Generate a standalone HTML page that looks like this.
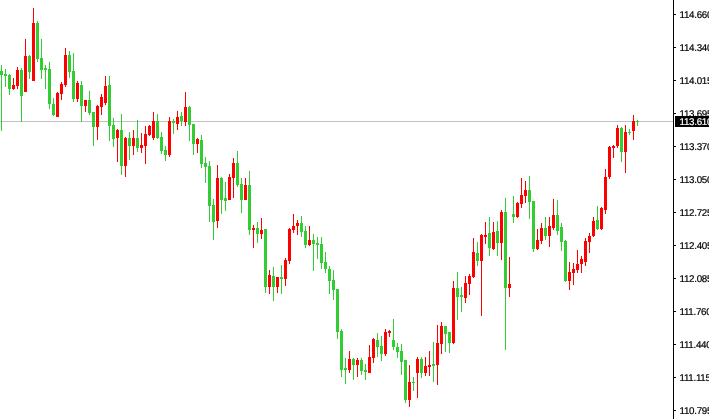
<!DOCTYPE html>
<html><head><meta charset="utf-8"><title>chart</title>
<style>
html,body{margin:0;padding:0;background:#fff;}
#c{position:relative;width:709px;height:419px;overflow:hidden;background:#fff;font-family:"Liberation Sans",sans-serif;}
#c svg{position:absolute;left:0;top:0;}
.l{position:absolute;left:679.5px;height:14px;line-height:14px;font-size:9.8px;letter-spacing:-0.3px;text-rendering:geometricPrecision;-webkit-text-stroke:0.2px;color:#000;white-space:nowrap;}
.p{position:absolute;left:675px;top:116px;width:34px;height:11px;background:#000;}
.p span{position:absolute;left:4.5px;top:0px;height:14px;line-height:14px;font-size:9.8px;letter-spacing:-0.3px;text-rendering:geometricPrecision;-webkit-text-stroke:0.2px;color:#fff;white-space:nowrap;}
</style></head><body>
<div id="c">
<svg width="709" height="419" viewBox="0 0 709 419" shape-rendering="crispEdges">
<rect x="0" y="121" width="673" height="1" fill="#c0c0c0"/>
<rect x="1" y="65" width="1" height="66" fill="#32cd32"/><rect x="0" y="71" width="3" height="4" fill="#32cd32"/><rect x="5" y="69" width="1" height="18" fill="#32cd32"/><rect x="4" y="74" width="3" height="2" fill="#32cd32"/><rect x="9" y="74" width="1" height="21" fill="#32cd32"/><rect x="8" y="75" width="3" height="14" fill="#32cd32"/><rect x="13" y="78" width="1" height="12" fill="#ff0000"/><rect x="12" y="85" width="3" height="4" fill="#ff0000"/><rect x="17" y="67" width="1" height="22" fill="#ff0000"/><rect x="16" y="70" width="3" height="16" fill="#ff0000"/><rect x="21" y="68" width="1" height="54" fill="#32cd32"/><rect x="20" y="70" width="3" height="26" fill="#32cd32"/><rect x="25" y="39" width="1" height="53" fill="#ff0000"/><rect x="24" y="56" width="3" height="36" fill="#ff0000"/><rect x="29" y="55" width="1" height="24" fill="#32cd32"/><rect x="28" y="56" width="3" height="16" fill="#32cd32"/><rect x="33" y="8" width="1" height="73" fill="#ff0000"/><rect x="32" y="23" width="3" height="58" fill="#ff0000"/><rect x="37" y="21" width="1" height="41" fill="#32cd32"/><rect x="36" y="23" width="3" height="36" fill="#32cd32"/><rect x="41" y="39" width="1" height="40" fill="#32cd32"/><rect x="40" y="58" width="3" height="12" fill="#32cd32"/><rect x="45" y="65" width="1" height="24" fill="#32cd32"/><rect x="44" y="68" width="3" height="2" fill="#32cd32"/><rect x="49" y="62" width="1" height="47" fill="#32cd32"/><rect x="48" y="69" width="3" height="35" fill="#32cd32"/><rect x="53" y="98" width="1" height="18" fill="#32cd32"/><rect x="52" y="104" width="3" height="11" fill="#32cd32"/><rect x="57" y="92" width="1" height="25" fill="#ff0000"/><rect x="56" y="93" width="3" height="24" fill="#ff0000"/><rect x="61" y="82" width="1" height="18" fill="#ff0000"/><rect x="60" y="84" width="3" height="10" fill="#ff0000"/><rect x="65" y="48" width="1" height="39" fill="#ff0000"/><rect x="64" y="55" width="3" height="30" fill="#ff0000"/><rect x="69" y="51" width="1" height="27" fill="#32cd32"/><rect x="68" y="55" width="3" height="17" fill="#32cd32"/><rect x="73" y="53" width="1" height="49" fill="#32cd32"/><rect x="72" y="71" width="3" height="28" fill="#32cd32"/><rect x="77" y="81" width="1" height="21" fill="#ff0000"/><rect x="76" y="83" width="3" height="16" fill="#ff0000"/><rect x="81" y="81" width="1" height="41" fill="#32cd32"/><rect x="80" y="85" width="3" height="21" fill="#32cd32"/><rect x="85" y="100" width="1" height="12" fill="#ff0000"/><rect x="84" y="100" width="3" height="6" fill="#ff0000"/><rect x="89" y="91" width="1" height="24" fill="#32cd32"/><rect x="88" y="100" width="3" height="13" fill="#32cd32"/><rect x="93" y="112" width="1" height="34" fill="#32cd32"/><rect x="92" y="112" width="3" height="15" fill="#32cd32"/><rect x="97" y="105" width="1" height="35" fill="#ff0000"/><rect x="96" y="106" width="3" height="21" fill="#ff0000"/><rect x="101" y="94" width="1" height="21" fill="#ff0000"/><rect x="100" y="97" width="3" height="10" fill="#ff0000"/><rect x="105" y="76" width="1" height="29" fill="#ff0000"/><rect x="104" y="86" width="3" height="17" fill="#ff0000"/><rect x="109" y="76" width="1" height="65" fill="#32cd32"/><rect x="108" y="85" width="3" height="41" fill="#32cd32"/><rect x="113" y="118" width="1" height="29" fill="#32cd32"/><rect x="112" y="125" width="3" height="14" fill="#32cd32"/><rect x="117" y="129" width="1" height="33" fill="#ff0000"/><rect x="116" y="130" width="3" height="8" fill="#ff0000"/><rect x="121" y="114" width="1" height="61" fill="#32cd32"/><rect x="120" y="130" width="3" height="36" fill="#32cd32"/><rect x="125" y="137" width="1" height="40" fill="#ff0000"/><rect x="124" y="138" width="3" height="28" fill="#ff0000"/><rect x="129" y="132" width="1" height="28" fill="#32cd32"/><rect x="128" y="138" width="3" height="8" fill="#32cd32"/><rect x="133" y="130" width="1" height="25" fill="#ff0000"/><rect x="132" y="138" width="3" height="8" fill="#ff0000"/><rect x="137" y="120" width="1" height="32" fill="#32cd32"/><rect x="136" y="138" width="3" height="10" fill="#32cd32"/><rect x="141" y="133" width="1" height="20" fill="#ff0000"/><rect x="140" y="145" width="3" height="3" fill="#ff0000"/><rect x="145" y="126" width="1" height="38" fill="#ff0000"/><rect x="144" y="134" width="3" height="12" fill="#ff0000"/><rect x="149" y="125" width="1" height="11" fill="#ff0000"/><rect x="148" y="126" width="3" height="9" fill="#ff0000"/><rect x="153" y="112" width="1" height="28" fill="#ff0000"/><rect x="152" y="121" width="3" height="17" fill="#ff0000"/><rect x="157" y="114" width="1" height="25" fill="#32cd32"/><rect x="156" y="121" width="3" height="17" fill="#32cd32"/><rect x="161" y="132" width="1" height="22" fill="#32cd32"/><rect x="160" y="137" width="3" height="14" fill="#32cd32"/><rect x="165" y="146" width="1" height="15" fill="#32cd32"/><rect x="164" y="150" width="3" height="5" fill="#32cd32"/><rect x="169" y="117" width="1" height="40" fill="#ff0000"/><rect x="168" y="121" width="3" height="34" fill="#ff0000"/><rect x="173" y="119" width="1" height="15" fill="#32cd32"/><rect x="172" y="121" width="3" height="2" fill="#32cd32"/><rect x="177" y="111" width="1" height="19" fill="#ff0000"/><rect x="176" y="117" width="3" height="7" fill="#ff0000"/><rect x="181" y="112" width="1" height="14" fill="#32cd32"/><rect x="180" y="116" width="3" height="5" fill="#32cd32"/><rect x="185" y="92" width="1" height="34" fill="#ff0000"/><rect x="184" y="107" width="3" height="15" fill="#ff0000"/><rect x="189" y="106" width="1" height="35" fill="#32cd32"/><rect x="188" y="107" width="3" height="18" fill="#32cd32"/><rect x="193" y="124" width="1" height="31" fill="#32cd32"/><rect x="192" y="124" width="3" height="20" fill="#32cd32"/><rect x="197" y="138" width="1" height="15" fill="#ff0000"/><rect x="196" y="139" width="3" height="5" fill="#ff0000"/><rect x="201" y="135" width="1" height="33" fill="#32cd32"/><rect x="200" y="140" width="3" height="24" fill="#32cd32"/><rect x="205" y="157" width="1" height="26" fill="#32cd32"/><rect x="204" y="163" width="3" height="4" fill="#32cd32"/><rect x="209" y="161" width="1" height="61" fill="#32cd32"/><rect x="208" y="166" width="3" height="40" fill="#32cd32"/><rect x="213" y="199" width="1" height="41" fill="#32cd32"/><rect x="212" y="205" width="3" height="17" fill="#32cd32"/><rect x="217" y="165" width="1" height="63" fill="#ff0000"/><rect x="216" y="178" width="3" height="43" fill="#ff0000"/><rect x="221" y="177" width="1" height="37" fill="#32cd32"/><rect x="220" y="178" width="3" height="22" fill="#32cd32"/><rect x="225" y="182" width="1" height="29" fill="#32cd32"/><rect x="224" y="198" width="3" height="3" fill="#32cd32"/><rect x="229" y="174" width="1" height="26" fill="#ff0000"/><rect x="228" y="177" width="3" height="23" fill="#ff0000"/><rect x="233" y="158" width="1" height="40" fill="#ff0000"/><rect x="232" y="163" width="3" height="15" fill="#ff0000"/><rect x="237" y="151" width="1" height="36" fill="#32cd32"/><rect x="236" y="163" width="3" height="22" fill="#32cd32"/><rect x="241" y="178" width="1" height="35" fill="#32cd32"/><rect x="240" y="184" width="3" height="16" fill="#32cd32"/><rect x="245" y="178" width="1" height="22" fill="#ff0000"/><rect x="244" y="185" width="3" height="15" fill="#ff0000"/><rect x="249" y="171" width="1" height="64" fill="#32cd32"/><rect x="248" y="185" width="3" height="45" fill="#32cd32"/><rect x="253" y="225" width="1" height="23" fill="#ff0000"/><rect x="252" y="228" width="3" height="2" fill="#ff0000"/><rect x="257" y="222" width="1" height="21" fill="#32cd32"/><rect x="256" y="228" width="3" height="6" fill="#32cd32"/><rect x="261" y="218" width="1" height="21" fill="#ff0000"/><rect x="260" y="230" width="3" height="4" fill="#ff0000"/><rect x="265" y="229" width="1" height="64" fill="#32cd32"/><rect x="264" y="229" width="3" height="58" fill="#32cd32"/><rect x="269" y="270" width="1" height="24" fill="#ff0000"/><rect x="268" y="275" width="3" height="12" fill="#ff0000"/><rect x="273" y="267" width="1" height="34" fill="#32cd32"/><rect x="272" y="276" width="3" height="11" fill="#32cd32"/><rect x="277" y="277" width="1" height="16" fill="#ff0000"/><rect x="276" y="277" width="3" height="10" fill="#ff0000"/><rect x="281" y="265" width="1" height="29" fill="#32cd32"/><rect x="280" y="277" width="3" height="2" fill="#32cd32"/><rect x="285" y="258" width="1" height="28" fill="#ff0000"/><rect x="284" y="260" width="3" height="19" fill="#ff0000"/><rect x="289" y="228" width="1" height="36" fill="#ff0000"/><rect x="288" y="229" width="3" height="32" fill="#ff0000"/><rect x="293" y="214" width="1" height="19" fill="#ff0000"/><rect x="292" y="226" width="3" height="4" fill="#ff0000"/><rect x="297" y="220" width="1" height="15" fill="#ff0000"/><rect x="296" y="223" width="3" height="3" fill="#ff0000"/><rect x="301" y="216" width="1" height="21" fill="#32cd32"/><rect x="300" y="223" width="3" height="9" fill="#32cd32"/><rect x="305" y="226" width="1" height="22" fill="#32cd32"/><rect x="304" y="231" width="3" height="14" fill="#32cd32"/><rect x="309" y="226" width="1" height="20" fill="#ff0000"/><rect x="308" y="240" width="3" height="5" fill="#ff0000"/><rect x="313" y="234" width="1" height="37" fill="#32cd32"/><rect x="312" y="240" width="3" height="4" fill="#32cd32"/><rect x="317" y="237" width="1" height="22" fill="#32cd32"/><rect x="316" y="243" width="3" height="2" fill="#32cd32"/><rect x="321" y="237" width="1" height="32" fill="#32cd32"/><rect x="320" y="244" width="3" height="19" fill="#32cd32"/><rect x="325" y="252" width="1" height="21" fill="#32cd32"/><rect x="324" y="262" width="3" height="7" fill="#32cd32"/><rect x="329" y="266" width="1" height="28" fill="#32cd32"/><rect x="328" y="269" width="3" height="12" fill="#32cd32"/><rect x="333" y="270" width="1" height="30" fill="#32cd32"/><rect x="332" y="280" width="3" height="10" fill="#32cd32"/><rect x="337" y="289" width="1" height="50" fill="#32cd32"/><rect x="336" y="289" width="3" height="43" fill="#32cd32"/><rect x="341" y="329" width="1" height="48" fill="#32cd32"/><rect x="340" y="331" width="3" height="39" fill="#32cd32"/><rect x="345" y="358" width="1" height="26" fill="#32cd32"/><rect x="344" y="368" width="3" height="2" fill="#32cd32"/><rect x="349" y="351" width="1" height="22" fill="#ff0000"/><rect x="348" y="359" width="3" height="11" fill="#ff0000"/><rect x="353" y="358" width="1" height="22" fill="#32cd32"/><rect x="352" y="359" width="3" height="6" fill="#32cd32"/><rect x="357" y="358" width="1" height="19" fill="#ff0000"/><rect x="356" y="360" width="3" height="5" fill="#ff0000"/><rect x="361" y="358" width="1" height="17" fill="#32cd32"/><rect x="360" y="360" width="3" height="11" fill="#32cd32"/><rect x="365" y="364" width="1" height="16" fill="#32cd32"/><rect x="364" y="370" width="3" height="2" fill="#32cd32"/><rect x="369" y="345" width="1" height="28" fill="#ff0000"/><rect x="368" y="357" width="3" height="16" fill="#ff0000"/><rect x="373" y="338" width="1" height="25" fill="#ff0000"/><rect x="372" y="339" width="3" height="19" fill="#ff0000"/><rect x="377" y="333" width="1" height="24" fill="#32cd32"/><rect x="376" y="340" width="3" height="7" fill="#32cd32"/><rect x="381" y="336" width="1" height="25" fill="#32cd32"/><rect x="380" y="346" width="3" height="8" fill="#32cd32"/><rect x="385" y="329" width="1" height="27" fill="#ff0000"/><rect x="384" y="332" width="3" height="22" fill="#ff0000"/><rect x="389" y="330" width="1" height="7" fill="#ff0000"/><rect x="388" y="331" width="3" height="2" fill="#ff0000"/><rect x="393" y="319" width="1" height="31" fill="#32cd32"/><rect x="392" y="340" width="3" height="7" fill="#32cd32"/><rect x="397" y="343" width="1" height="15" fill="#32cd32"/><rect x="396" y="347" width="3" height="5" fill="#32cd32"/><rect x="401" y="344" width="1" height="31" fill="#32cd32"/><rect x="400" y="351" width="3" height="11" fill="#32cd32"/><rect x="405" y="360" width="1" height="43" fill="#32cd32"/><rect x="404" y="360" width="3" height="40" fill="#32cd32"/><rect x="409" y="365" width="1" height="42" fill="#ff0000"/><rect x="408" y="382" width="3" height="18" fill="#ff0000"/><rect x="413" y="377" width="1" height="14" fill="#32cd32"/><rect x="412" y="382" width="3" height="1" fill="#32cd32"/><rect x="417" y="357" width="1" height="41" fill="#ff0000"/><rect x="416" y="359" width="3" height="14" fill="#ff0000"/><rect x="421" y="357" width="1" height="21" fill="#32cd32"/><rect x="420" y="359" width="3" height="14" fill="#32cd32"/><rect x="425" y="357" width="1" height="19" fill="#ff0000"/><rect x="424" y="366" width="3" height="7" fill="#ff0000"/><rect x="429" y="351" width="1" height="25" fill="#ff0000"/><rect x="428" y="365" width="3" height="2" fill="#ff0000"/><rect x="433" y="342" width="1" height="40" fill="#32cd32"/><rect x="432" y="364" width="3" height="2" fill="#32cd32"/><rect x="437" y="325" width="1" height="60" fill="#ff0000"/><rect x="436" y="343" width="3" height="22" fill="#ff0000"/><rect x="441" y="322" width="1" height="32" fill="#ff0000"/><rect x="440" y="326" width="3" height="18" fill="#ff0000"/><rect x="445" y="326" width="1" height="26" fill="#32cd32"/><rect x="444" y="326" width="3" height="8" fill="#32cd32"/><rect x="449" y="332" width="1" height="21" fill="#32cd32"/><rect x="448" y="332" width="3" height="11" fill="#32cd32"/><rect x="453" y="281" width="1" height="63" fill="#ff0000"/><rect x="452" y="288" width="3" height="55" fill="#ff0000"/><rect x="457" y="272" width="1" height="48" fill="#32cd32"/><rect x="456" y="288" width="3" height="9" fill="#32cd32"/><rect x="461" y="287" width="1" height="25" fill="#32cd32"/><rect x="460" y="295" width="3" height="2" fill="#32cd32"/><rect x="465" y="276" width="1" height="27" fill="#ff0000"/><rect x="464" y="283" width="3" height="15" fill="#ff0000"/><rect x="469" y="274" width="1" height="21" fill="#ff0000"/><rect x="468" y="276" width="3" height="8" fill="#ff0000"/><rect x="473" y="238" width="1" height="40" fill="#ff0000"/><rect x="472" y="252" width="3" height="25" fill="#ff0000"/><rect x="477" y="242" width="1" height="24" fill="#32cd32"/><rect x="476" y="253" width="3" height="8" fill="#32cd32"/><rect x="481" y="234" width="1" height="82" fill="#ff0000"/><rect x="480" y="235" width="3" height="26" fill="#ff0000"/><rect x="485" y="222" width="1" height="22" fill="#ff0000"/><rect x="484" y="235" width="3" height="2" fill="#ff0000"/><rect x="489" y="217" width="1" height="39" fill="#32cd32"/><rect x="488" y="233" width="3" height="15" fill="#32cd32"/><rect x="493" y="222" width="1" height="28" fill="#ff0000"/><rect x="492" y="232" width="3" height="17" fill="#ff0000"/><rect x="497" y="221" width="1" height="35" fill="#32cd32"/><rect x="496" y="231" width="3" height="12" fill="#32cd32"/><rect x="501" y="210" width="1" height="50" fill="#ff0000"/><rect x="500" y="212" width="3" height="31" fill="#ff0000"/><rect x="505" y="198" width="1" height="152" fill="#32cd32"/><rect x="504" y="212" width="3" height="76" fill="#32cd32"/><rect x="509" y="257" width="1" height="40" fill="#ff0000"/><rect x="508" y="284" width="3" height="4" fill="#ff0000"/><rect x="513" y="196" width="1" height="27" fill="#32cd32"/><rect x="512" y="214" width="3" height="3" fill="#32cd32"/><rect x="517" y="202" width="1" height="16" fill="#ff0000"/><rect x="516" y="203" width="3" height="14" fill="#ff0000"/><rect x="521" y="178" width="1" height="30" fill="#ff0000"/><rect x="520" y="195" width="3" height="9" fill="#ff0000"/><rect x="525" y="181" width="1" height="22" fill="#ff0000"/><rect x="524" y="190" width="3" height="6" fill="#ff0000"/><rect x="529" y="176" width="1" height="43" fill="#32cd32"/><rect x="528" y="190" width="3" height="12" fill="#32cd32"/><rect x="533" y="201" width="1" height="51" fill="#32cd32"/><rect x="532" y="201" width="3" height="48" fill="#32cd32"/><rect x="537" y="229" width="1" height="21" fill="#ff0000"/><rect x="536" y="240" width="3" height="9" fill="#ff0000"/><rect x="541" y="223" width="1" height="21" fill="#ff0000"/><rect x="540" y="228" width="3" height="13" fill="#ff0000"/><rect x="545" y="217" width="1" height="23" fill="#32cd32"/><rect x="544" y="228" width="3" height="8" fill="#32cd32"/><rect x="549" y="217" width="1" height="30" fill="#ff0000"/><rect x="548" y="226" width="3" height="10" fill="#ff0000"/><rect x="553" y="199" width="1" height="31" fill="#ff0000"/><rect x="552" y="215" width="3" height="13" fill="#ff0000"/><rect x="557" y="200" width="1" height="35" fill="#32cd32"/><rect x="556" y="215" width="3" height="16" fill="#32cd32"/><rect x="561" y="223" width="1" height="28" fill="#32cd32"/><rect x="560" y="227" width="3" height="15" fill="#32cd32"/><rect x="565" y="240" width="1" height="42" fill="#32cd32"/><rect x="564" y="241" width="3" height="40" fill="#32cd32"/><rect x="569" y="262" width="1" height="28" fill="#ff0000"/><rect x="568" y="272" width="3" height="9" fill="#ff0000"/><rect x="573" y="263" width="1" height="22" fill="#ff0000"/><rect x="572" y="269" width="3" height="4" fill="#ff0000"/><rect x="577" y="250" width="1" height="23" fill="#ff0000"/><rect x="576" y="264" width="3" height="6" fill="#ff0000"/><rect x="581" y="256" width="1" height="17" fill="#ff0000"/><rect x="580" y="259" width="3" height="5" fill="#ff0000"/><rect x="585" y="238" width="1" height="28" fill="#ff0000"/><rect x="584" y="241" width="3" height="21" fill="#ff0000"/><rect x="589" y="233" width="1" height="20" fill="#ff0000"/><rect x="588" y="236" width="3" height="6" fill="#ff0000"/><rect x="593" y="217" width="1" height="20" fill="#ff0000"/><rect x="592" y="221" width="3" height="15" fill="#ff0000"/><rect x="597" y="206" width="1" height="24" fill="#32cd32"/><rect x="596" y="220" width="3" height="9" fill="#32cd32"/><rect x="601" y="207" width="1" height="23" fill="#ff0000"/><rect x="600" y="208" width="3" height="21" fill="#ff0000"/><rect x="605" y="169" width="1" height="45" fill="#ff0000"/><rect x="604" y="177" width="3" height="33" fill="#ff0000"/><rect x="609" y="146" width="1" height="33" fill="#ff0000"/><rect x="608" y="147" width="3" height="30" fill="#ff0000"/><rect x="613" y="145" width="1" height="13" fill="#ff0000"/><rect x="612" y="146" width="3" height="2" fill="#ff0000"/><rect x="617" y="125" width="1" height="23" fill="#ff0000"/><rect x="616" y="128" width="3" height="18" fill="#ff0000"/><rect x="621" y="127" width="1" height="35" fill="#32cd32"/><rect x="620" y="128" width="3" height="24" fill="#32cd32"/><rect x="625" y="125" width="1" height="48" fill="#ff0000"/><rect x="624" y="132" width="3" height="20" fill="#ff0000"/><rect x="629" y="129" width="1" height="6" fill="#32cd32"/><rect x="628" y="132" width="3" height="1" fill="#32cd32"/><rect x="633" y="115" width="1" height="25" fill="#ff0000"/><rect x="632" y="121" width="3" height="10" fill="#ff0000"/><rect x="637" y="120" width="1" height="6" fill="#32cd32"/><rect x="636" y="121" width="3" height="1" fill="#32cd32"/>
<rect x="673" y="0" width="1" height="419" fill="#000"/>
<rect x="674" y="14" width="2" height="1" fill="#000"/><rect x="674" y="47" width="2" height="1" fill="#000"/><rect x="674" y="80" width="2" height="1" fill="#000"/><rect x="674" y="113" width="2" height="1" fill="#000"/><rect x="674" y="146" width="2" height="1" fill="#000"/><rect x="674" y="179" width="2" height="1" fill="#000"/><rect x="674" y="212" width="2" height="1" fill="#000"/><rect x="674" y="245" width="2" height="1" fill="#000"/><rect x="674" y="278" width="2" height="1" fill="#000"/><rect x="674" y="311" width="2" height="1" fill="#000"/><rect x="674" y="344" width="2" height="1" fill="#000"/><rect x="674" y="377" width="2" height="1" fill="#000"/><rect x="674" y="410" width="2" height="1" fill="#000"/>
</svg>
<div class="l" style="top:9px">114.660</div><div class="l" style="top:42px">114.340</div><div class="l" style="top:75px">114.015</div><div class="l" style="top:108px">113.695</div><div class="l" style="top:141px">113.370</div><div class="l" style="top:174px">113.050</div><div class="l" style="top:207px">112.725</div><div class="l" style="top:240px">112.405</div><div class="l" style="top:273px">112.085</div><div class="l" style="top:306px">111.760</div><div class="l" style="top:339px">111.440</div><div class="l" style="top:372px">111.115</div><div class="l" style="top:405px">110.795</div>
<div class="p"><span>113.610</span></div>
</div>
</body></html>
